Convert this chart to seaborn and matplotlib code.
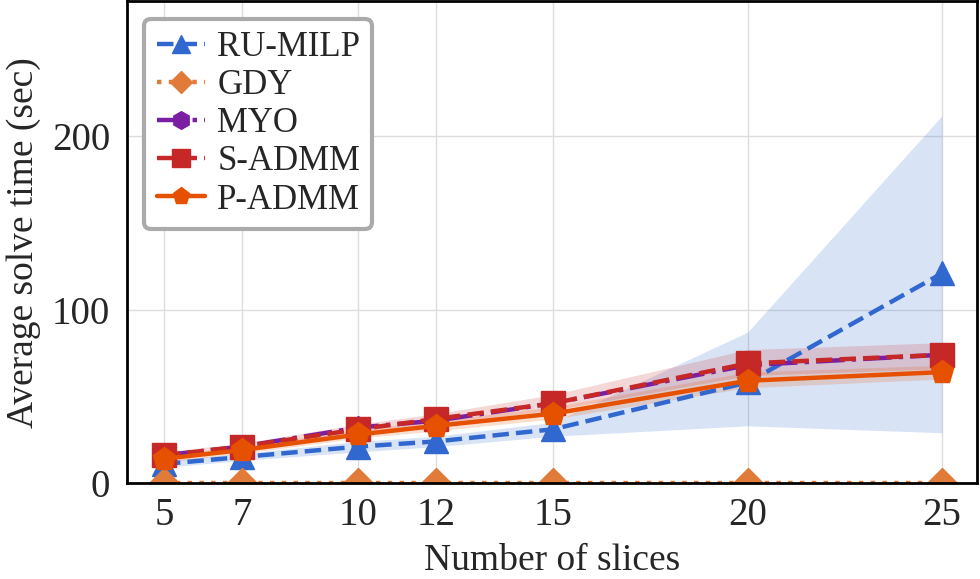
import numpy as np
import pandas as pd
import seaborn as sns
import matplotlib.pyplot as plt

slices = [5, 7, 10, 12, 15, 20, 25]

ru_milp = [11, 15, 21, 24, 31, 58, 121]
ru_milp_lo = [9, 13, 18, 21, 27, 33, 29]
ru_milp_hi = [13, 17, 24, 27, 35, 87, 212]

gdy = [0, 0, 0, 0, 0, 0, 0]

myo = [16, 21, 32, 36, 46, 68, 74]

s_admm = [16, 21, 31, 37, 46, 69, 74]
s_admm_lo = [14, 19, 28, 34, 42, 62, 66]
s_admm_hi = [18, 23, 34, 40, 51, 77, 81]

p_admm = [14, 19, 28, 33, 40, 59, 64]
p_admm_lo = [12, 17, 26, 30, 37, 55, 60]
p_admm_hi = [16, 21, 31, 36, 44, 64, 68]

sns.set_style("whitegrid")
plt.rcParams['font.family'] = ['Liberation Serif', 'DejaVu Serif']

fig = plt.figure(figsize=(9.8, 5.79), dpi=100)
ax = fig.add_axes([0.1296, 0.1658, 0.8674, 0.832])

series = [
    ('RU-MILP', ru_milp, ru_milp_lo, ru_milp_hi, '#3068d0', '--', '^'),
    ('GDY', gdy, None, None, '#e07b39', ':', 'D'),
    ('MYO', myo, None, None, '#7b1fa2', '-.', 'h'),
    ('S-ADMM', s_admm, s_admm_lo, s_admm_hi, '#c62828', '--', 's'),
    ('P-ADMM', p_admm, p_admm_lo, p_admm_hi, '#e65100', '-', 'p'),
]

# bands first, then the lines with markers
for name, vals, lo, hi, col, ls, mk in series:
    if lo is not None:
        ax.fill_between(slices, lo, hi, color=col, alpha=0.18, linewidth=0)
    sns.lineplot(x=slices, y=vals, ax=ax, color=col, linestyle=ls, marker=mk,
                 markersize=17 if mk != 'D' else 15, markeredgecolor=col,
                 markeredgewidth=1, linewidth=3.2, label=name)

ax.set_xlim(4.05, 25.9)
ax.set_ylim(0, 278)
ax.set_xticks(slices)
ax.set_yticks([0, 100, 200])
ax.set_xlabel('Number of slices', fontsize=27, labelpad=7)
ax.set_ylabel('Average solve time (sec)', fontsize=27, labelpad=8)
ax.tick_params(axis='both', labelsize=28, direction='in', length=10, width=2, color='black')
ax.tick_params(axis='x', pad=10)
ax.tick_params(axis='y', pad=12)
ax.grid(True, color='#dddddd', linewidth=1)
for sp in ax.spines.values():
    sp.set_color('black')
    sp.set_linewidth(2)

leg = ax.legend(loc='upper left', fontsize=25, labelspacing=0.15, handlelength=1.4,
                handletextpad=0.35, borderpad=0.35, markerscale=0.75, framealpha=1,
                fancybox=True, borderaxespad=0.5)
leg.get_frame().set_edgecolor('#aaaaaa')
leg.get_frame().set_linewidth(3)

plt.savefig('out.png', dpi=100)
